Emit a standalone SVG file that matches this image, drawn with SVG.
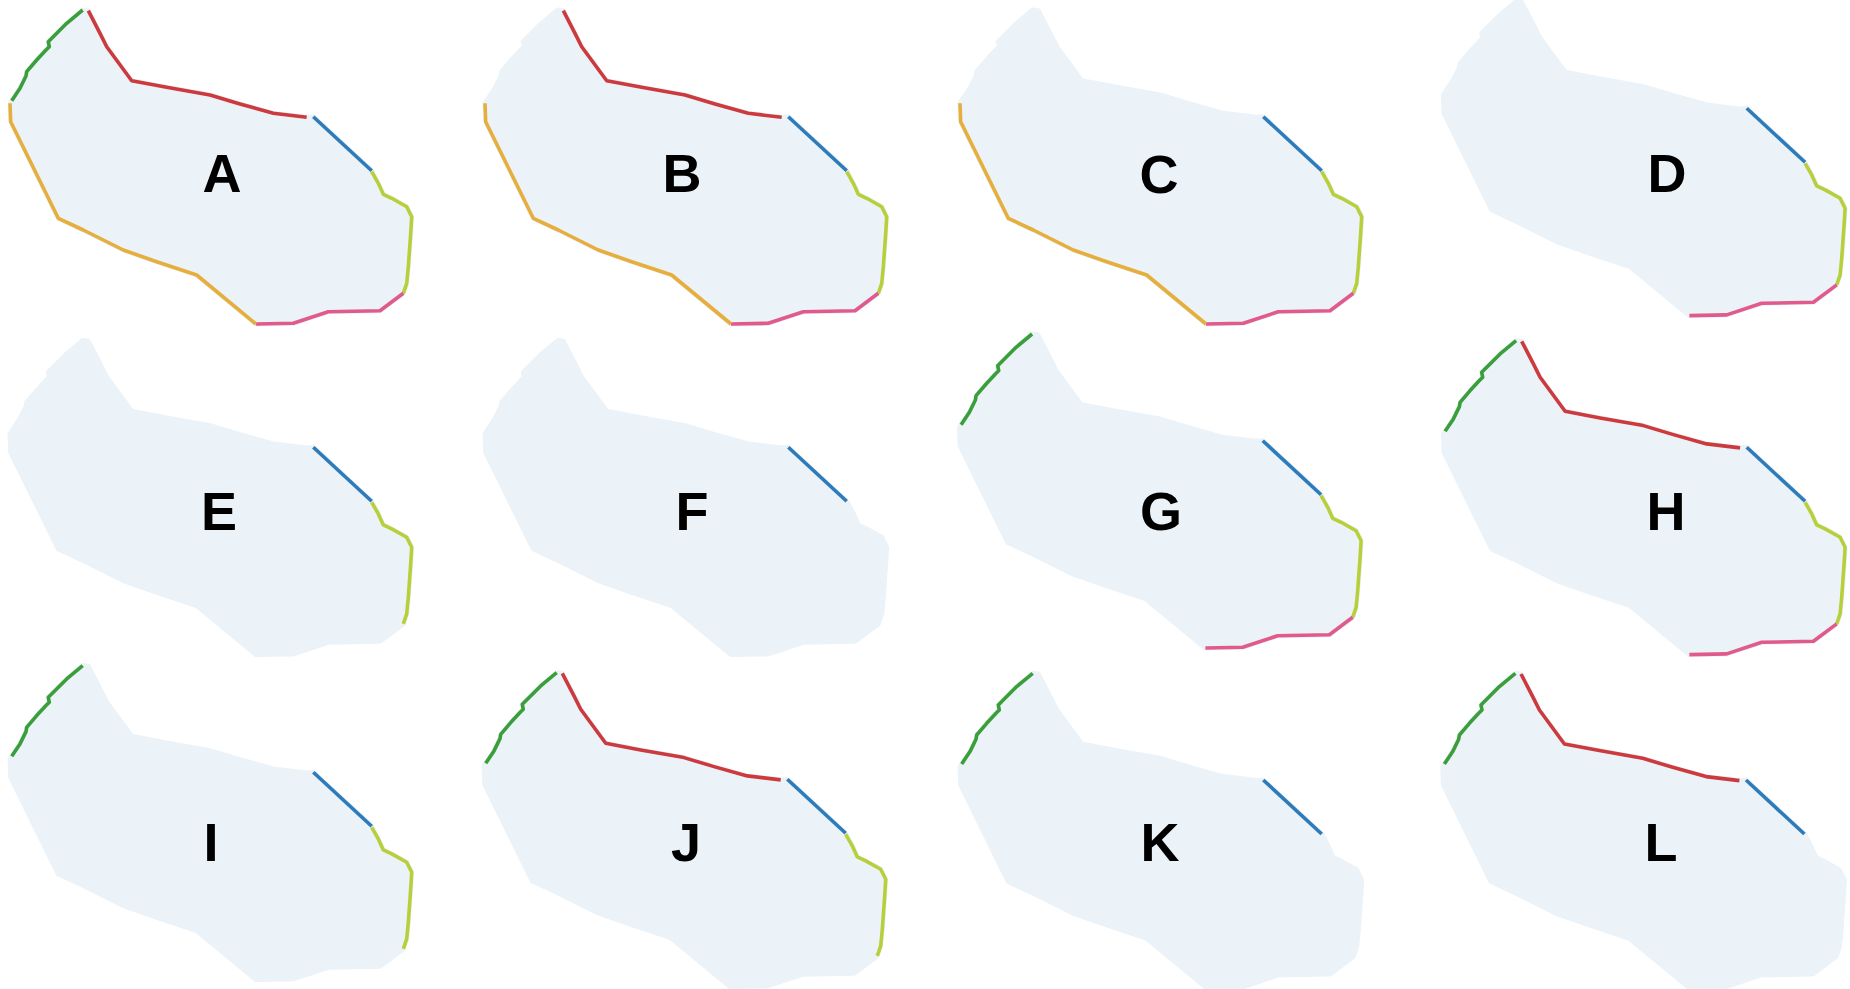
<svg xmlns="http://www.w3.org/2000/svg" xmlns:xlink="http://www.w3.org/1999/xlink" width="1850" height="989" viewBox="0 0 1850 989">
<style>
.blob{fill:#EBF3F9;stroke:#EBF3F9;stroke-width:5;stroke-linejoin:round}
.seg{fill:none;stroke-width:3.6;stroke-linejoin:round;stroke-linecap:butt}
.g{stroke:#3A9E3A}
.r{stroke:#CC3A3E}
.b{stroke:#2E7BBA}
.y{stroke:#B8CF3C}
.p{stroke:#E05A8C}
.o{stroke:#E6AE3C}
.lbl{font-family:"Liberation Sans",Arial,sans-serif;font-weight:bold;font-size:54px;fill:#000;text-anchor:middle}
</style>
<defs>
<path id="blob" class="blob" d="M88.3,10.7 L100,33.3 L106.7,46.7 L131.7,80.7 L166.7,87.3 L210,95 L240,104 L273.3,113.3 L306.7,117.3 L313.3,116.7 L371.7,170.7 L378.3,183.3 L383.3,194.3 L391.7,198.3 L406.7,206.7 L411.7,216.7 L410.7,233.3 L408.3,266.7 L406.7,283.3 L403.3,293.3 L380,310.7 L328.3,311.7 L293.3,323.3 L256,324 L196.7,275 L156.7,261.7 L123.3,250 L83.3,230 L58.3,218.3 L10.7,121.7 L10,103.3 L11.7,100.7 L20,88.3 L26,76 L26.7,71.7 L36.7,60 L46,50 L49.3,46.7 L48.3,41.7 L66.7,23.3 L82.7,10 Z"/>
<path id="sg" class="seg g" d="M82.7,10 L66.7,23.3 L48.3,41.7 L49.3,46.7 L46,50 L36.7,60 L26.7,71.7 L26,76 L20,88.3 L11.7,100.7"/>
<path id="sr" class="seg r" d="M88.3,10.7 L100,33.3 L106.7,46.7 L131.7,80.7 L166.7,87.3 L210,95 L240,104 L273.3,113.3 L306.7,117.3"/>
<path id="sb" class="seg b" d="M313.3,116.7 L371.7,170.7"/>
<path id="sy" class="seg y" d="M371.7,171.7 L378.3,183.3 L383.3,194.3 L391.7,198.3 L406.7,206.7 L411.7,216.7 L410.7,233.3 L408.3,266.7 L406.7,283.3 L403.3,293.3"/>
<path id="sp" class="seg p" d="M403.3,293.3 L380,310.7 L328.3,311.7 L293.3,323.3 L256,324"/>
<path id="so" class="seg o" d="M10,103.3 L10.7,121.7 L58.3,218.3 L83.3,230 L123.3,250 L156.7,261.7 L196.7,275 L256,324"/>
</defs>
<rect width="1850" height="989" fill="#FFFFFF"/>

<g id="panel-A">
<g transform="translate(0,0)"><use xlink:href="#blob"/></g>
<g class="connectors" transform="translate(0,0)"><use xlink:href="#sg"/><use xlink:href="#sr"/><use xlink:href="#sb"/><use xlink:href="#sy"/><use xlink:href="#sp"/><use xlink:href="#so"/></g>
<text class="lbl" x="222" y="192">A</text>
</g>

<g id="panel-B">
<g transform="translate(475,0)"><use xlink:href="#blob"/></g>
<g class="connectors" transform="translate(475,0)"><use xlink:href="#sr"/><use xlink:href="#sb"/><use xlink:href="#sy"/><use xlink:href="#sp"/><use xlink:href="#so"/></g>
<text class="lbl" x="682" y="192">B</text>
</g>

<g id="panel-C">
<g transform="translate(950,0)"><use xlink:href="#blob"/></g>
<g class="connectors" transform="translate(950,0)"><use xlink:href="#sb"/><use xlink:href="#sy"/><use xlink:href="#sp"/><use xlink:href="#so"/></g>
<text class="lbl" x="1159" y="193">C</text>
</g>

<g id="panel-D">
<g transform="translate(1433.4,-8.4)"><use xlink:href="#blob"/></g>
<g class="connectors" transform="translate(1433.4,-8.4)"><use xlink:href="#sb"/><use xlink:href="#sy"/><use xlink:href="#sp"/></g>
<text class="lbl" x="1667" y="192">D</text>
</g>

<g id="panel-E">
<g transform="translate(0,330.6)"><use xlink:href="#blob"/></g>
<g class="connectors" transform="translate(0,330.6)"><use xlink:href="#sb"/><use xlink:href="#sy"/></g>
<text class="lbl" x="219" y="529.5">E</text>
</g>

<g id="panel-F">
<g transform="translate(475,330.6)"><use xlink:href="#blob"/></g>
<g class="connectors" transform="translate(475,330.6)"><use xlink:href="#sb"/></g>
<text class="lbl" x="692" y="529.5">F</text>
</g>

<g id="panel-G">
<g transform="translate(949.4,324)"><use xlink:href="#blob"/></g>
<g class="connectors" transform="translate(949.4,324)"><use xlink:href="#sg"/><use xlink:href="#sb"/><use xlink:href="#sy"/><use xlink:href="#sp"/></g>
<text class="lbl" x="1161" y="530">G</text>
</g>

<g id="panel-H">
<g transform="translate(1433.4,330.6)"><use xlink:href="#blob"/></g>
<g class="connectors" transform="translate(1433.4,330.6)"><use xlink:href="#sg"/><use xlink:href="#sr"/><use xlink:href="#sb"/><use xlink:href="#sy"/><use xlink:href="#sp"/></g>
<text class="lbl" x="1666" y="530">H</text>
</g>

<g id="panel-I">
<g transform="translate(0,655.6)"><use xlink:href="#blob"/></g>
<g class="connectors" transform="translate(0,655.6)"><use xlink:href="#sg"/><use xlink:href="#sb"/><use xlink:href="#sy"/></g>
<text class="lbl" x="211" y="861">I</text>
</g>

<g id="panel-J">
<g transform="translate(474,662.6)"><use xlink:href="#blob"/></g>
<g class="connectors" transform="translate(474,662.6)"><use xlink:href="#sg"/><use xlink:href="#sr"/><use xlink:href="#sb"/><use xlink:href="#sy"/></g>
<text class="lbl" x="686" y="861">J</text>
</g>

<g id="panel-K">
<g transform="translate(950,663.3)"><use xlink:href="#blob"/></g>
<g class="connectors" transform="translate(950,663.3)"><use xlink:href="#sg"/><use xlink:href="#sb"/></g>
<text class="lbl" x="1160" y="861">K</text>
</g>

<g id="panel-L">
<g transform="translate(1432.7,663.3)"><use xlink:href="#blob"/></g>
<g class="connectors" transform="translate(1432.7,663.3)"><use xlink:href="#sg"/><use xlink:href="#sr"/><use xlink:href="#sb"/></g>
<text class="lbl" x="1661" y="861">L</text>
</g>
</svg>
